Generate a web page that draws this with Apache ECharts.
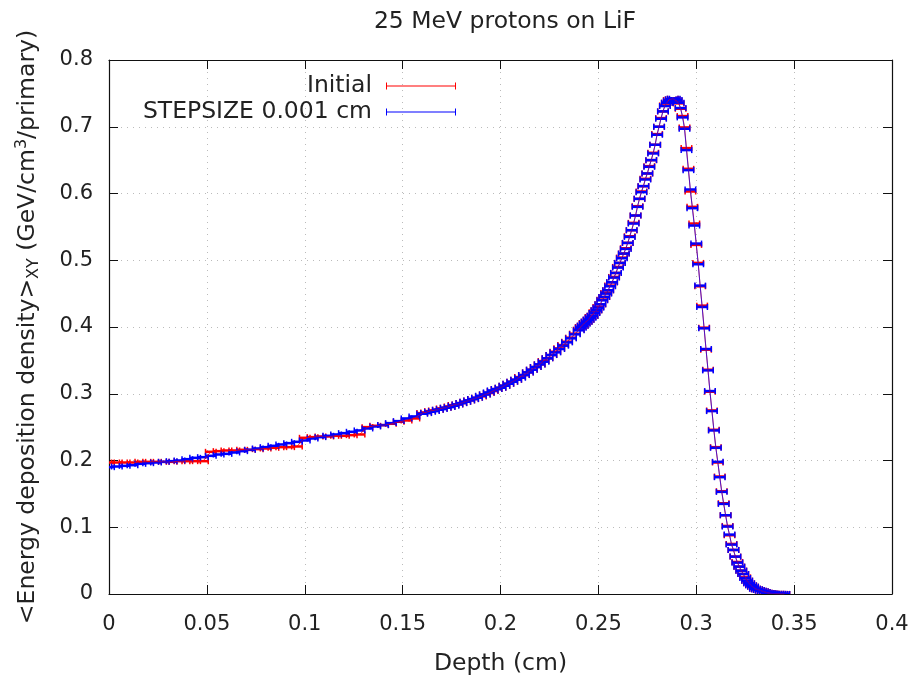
<!DOCTYPE html>
<html><head><meta charset="utf-8">
<script src="https://cdn.jsdelivr.net/npm/echarts@6/dist/echarts.min.js"></script>
<style>html,body{margin:0;padding:0;background:#fff}#c{width:912px;height:675px}</style>
</head><body><div id="c"></div>
<script>
// ---- data ----
const depthA = [0,0.004,0.008,0.012,0.016,0.02,0.024,0.028,0.032,0.036,0.04,0.044,0.048,0.052,0.056,0.06,0.064,0.068,0.072,0.076,0.08,0.084,0.088,0.092,0.096,0.1,0.104,0.108,0.112,0.116,0.12,0.124,0.128,0.132,0.136,0.14,0.144,0.148,0.152,0.156,0.16];
const depthM = [0.162,0.164,0.166,0.168,0.17,0.172,0.174,0.176,0.178,0.18,0.182,0.184,0.186,0.188,0.19,0.192,0.194,0.196,0.198,0.2,0.202,0.204,0.206,0.208,0.21,0.212,0.214,0.216,0.218,0.22,0.222,0.224,0.226,0.228,0.23,0.232,0.234,0.236,0.238,0.24];
const depthB = [0.241,0.242,0.243,0.244,0.245,0.246,0.247,0.248,0.249,0.25,0.251,0.252,0.253,0.254,0.255,0.256,0.257,0.258,0.259,0.26,0.261,0.262,0.263,0.264,0.265,0.266,0.267,0.268,0.269,0.27,0.271,0.272,0.273,0.274,0.275,0.276,0.277,0.278,0.279,0.28,0.281,0.282,0.283,0.284,0.285,0.286,0.287,0.288,0.289,0.29,0.291,0.292,0.293,0.294,0.295,0.296,0.297,0.298,0.299,0.3,0.301,0.302,0.303,0.304,0.305,0.306,0.307,0.308,0.309,0.31,0.311,0.312,0.313,0.314,0.315,0.316,0.317,0.318,0.319,0.32,0.321,0.322,0.323,0.324,0.325,0.326,0.327,0.328,0.329,0.33,0.331,0.332,0.333,0.334,0.335,0.336,0.337,0.338,0.339,0.34,0.341,0.342,0.343,0.344,0.345];

const initialA = [
0.197,0.197,0.197,0.197,0.198,0.198,0.198,0.198,0.198,0.199,
0.199,0.199,0.199,0.213,0.214,0.215,0.215,0.216,0.216,0.217,
0.218,0.219,0.220,0.220,0.221,0.234,0.235,0.236,0.236,0.237,
0.237,0.238,0.239,0.250,0.252,0.253,0.255,0.258,0.260,0.263,
0.271];
const initialM = [
0.272,0.274,0.275,0.276,0.278,0.279,0.281,0.283,0.284,0.286,
0.288,0.290,0.292,0.294,0.296,0.299,0.301,0.304,0.307,0.309,
0.312,0.315,0.318,0.321,0.325,0.328,0.332,0.336,0.340,0.344,
0.349,0.353,0.358,0.363,0.368,0.373,0.378,0.384,0.390,0.396];
const initialB = [
0.400,0.402,0.406,0.408,0.411,0.415,0.417,0.422,0.425,0.430,
0.434,0.441,0.445,0.451,0.455,0.462,0.467,0.475,0.481,0.490,
0.496,0.504,0.510,0.518,0.526,0.536,0.545,0.556,0.567,0.581,
0.592,0.603,0.611,0.622,0.630,0.641,0.650,0.661,0.673,0.689,
0.700,0.713,0.723,0.732,0.736,0.740,0.741,0.742,0.741,0.739,
0.735,0.727,0.716,0.699,0.668,0.637,0.603,0.580,0.555,0.523,
0.496,0.461,0.432,0.399,0.366,0.336,0.303,0.275,0.246,0.220,
0.197,0.176,0.154,0.136,0.118,0.102,0.088,0.075,0.066,0.056,
0.048,0.041,0.035,0.030,0.025,0.020,0.016,0.013,0.011,0.008,
0.007,0.006,0.005,0.004,0.003,0.002,0.0015,0.001,0.0008,0.0005,
0.0004,0.0003,0.0002,0.0001,0.0001];

const stepA = [
0.190,0.191,0.192,0.193,0.195,0.196,0.197,0.198,0.199,0.200,
0.202,0.204,0.205,0.207,0.209,0.210,0.212,0.214,0.216,0.218,
0.220,0.222,0.224,0.226,0.228,0.230,0.233,0.235,0.237,0.239,
0.241,0.243,0.245,0.248,0.251,0.253,0.256,0.259,0.263,0.266,
0.270];
const stepM = [
0.271,0.273,0.274,0.276,0.277,0.279,0.280,0.282,0.284,0.286,
0.288,0.290,0.292,0.294,0.297,0.299,0.302,0.305,0.307,0.309,
0.312,0.315,0.318,0.321,0.324,0.328,0.332,0.336,0.340,0.344,
0.348,0.353,0.358,0.362,0.367,0.372,0.377,0.383,0.389,0.395];
const stepB = [
0.399,0.402,0.405,0.408,0.411,0.414,0.417,0.421,0.425,0.429,
0.434,0.440,0.445,0.450,0.455,0.461,0.467,0.474,0.481,0.489,
0.496,0.503,0.510,0.517,0.526,0.535,0.545,0.555,0.567,0.580,
0.592,0.602,0.611,0.621,0.630,0.640,0.650,0.660,0.673,0.688,
0.700,0.712,0.723,0.731,0.736,0.739,0.741,0.742,0.742,0.740,
0.736,0.728,0.714,0.697,0.665,0.635,0.606,0.578,0.552,0.525,
0.494,0.462,0.430,0.398,0.367,0.335,0.304,0.274,0.245,0.219,
0.198,0.175,0.153,0.135,0.118,0.101,0.089,0.074,0.066,0.056,
0.047,0.041,0.035,0.030,0.024,0.020,0.016,0.013,0.011,0.008,
0.007,0.006,0.005,0.004,0.003,0.002,0.0015,0.001,0.0008,0.0005,
0.0004,0.0003,0.0002,0.0001,0.0001];

const xHalfWidth = 0.0027; // horizontal error bar half-width (cm)
const xTicks = { min: 0, max: 0.4, interval: 0.05 };
const yTicks = { min: 0, max: 0.8, interval: 0.1 };

const depth = depthA.concat(depthM, depthB);
const initialVals = initialA.concat(initialM, initialB);
const stepVals = stepA.concat(stepM, stepB);
const pairs = (xs, ys) => xs.map((x, i) => [x, ys[i]]);

const RED = '#ff0000', BLUE = '#0000ff';
const FONT = 'DejaVu Sans';
const FS = 23.5;      // title, legend, axis names
const FS_TICK = 21;   // tick labels

function barRenderer(color) {
  return function (params, api) {
    const x = api.value(0), y = api.value(1);
    const a = api.coord([x - xHalfWidth, y]);
    const b = api.coord([x + xHalfWidth, y]);
    const ch = 3;
    return {
      type: 'group',
      children: [
        { type: 'line', shape: { x1: a[0], y1: a[1], x2: b[0], y2: b[1] }, style: { stroke: color, lineWidth: 2.5 } },
        { type: 'line', shape: { x1: a[0], y1: a[1] - ch, x2: a[0], y2: a[1] + ch }, style: { stroke: color, lineWidth: 1.5 } },
        { type: 'line', shape: { x1: b[0], y1: b[1] - ch, x2: b[0], y2: b[1] + ch }, style: { stroke: color, lineWidth: 1.5 } }
      ]
    };
  };
}

const chart = echarts.init(document.getElementById('c'), null, { renderer: 'canvas' });
const iconPath = 'path://M0,0h1v3h68v-3h1v7h-1v-3h-68v3h-1z';
const axisCommon = {
  axisLine: { show: true, onZero: false, lineStyle: { color: '#111', width: 1.2 } },
  axisTick: { show: true, inside: true, length: 9, lineStyle: { color: '#111', width: 1 } }
};
const legendText = { fontFamily: FONT, fontSize: FS, color: '#222', lineHeight: 24, padding: [0, 9, 0, 0] };

chart.setOption({
  animation: false,
  backgroundColor: '#fff',
  textStyle: { fontFamily: FONT },
  title: {
    text: '25 MeV protons on LiF', left: 500, top: 5, textAlign: 'center',
    textStyle: { fontFamily: FONT, fontSize: FS, fontWeight: 'normal', color: '#222' }
  },
  legend: [
    { data: [{ name: 'Initial', icon: iconPath, itemStyle: { color: RED } }],
      orient: 'vertical', align: 'right', right: 456, top: 74, padding: 0,
      itemWidth: 70, itemHeight: 7, selectedMode: false, textStyle: legendText },
    { data: [{ name: 'STEPSIZE 0.001 cm', icon: iconPath, itemStyle: { color: BLUE } }],
      orient: 'vertical', align: 'right', right: 456, top: 100, padding: 0,
      itemWidth: 70, itemHeight: 7, selectedMode: false, textStyle: legendText }
  ],
  grid: { left: 109, right: 20, top: 60, bottom: 81, containLabel: false, outerBoundsMode: 'none' },
  xAxis: [
    Object.assign({
      type: 'value', position: 'bottom', min: xTicks.min, max: xTicks.max, interval: xTicks.interval,
      axisLabel: { fontFamily: FONT, fontSize: FS_TICK, color: '#222', margin: 20 },
      splitLine: { show: true, lineStyle: { color: '#bbb', type: [1, 5], width: 1 } },
      name: 'Depth (cm)', nameLocation: 'middle', nameGap: 58,
      nameTextStyle: { fontFamily: FONT, fontSize: FS, color: '#222' }
    }, axisCommon),
    Object.assign({
      type: 'value', position: 'top', min: xTicks.min, max: xTicks.max, interval: xTicks.interval,
      axisLabel: { show: false }, splitLine: { show: false }
    }, axisCommon)
  ],
  yAxis: [
    Object.assign({
      type: 'value', position: 'left', min: yTicks.min, max: yTicks.max, interval: yTicks.interval,
      axisLabel: { fontFamily: FONT, fontSize: FS_TICK, color: '#222', margin: 16 },
      splitLine: { show: true, lineStyle: { color: '#bbb', type: [1, 5], width: 1 } },
      name: '<Energy deposition density>{sub|XY} (GeV/cm{sup|3}/primary)',
      nameLocation: 'middle', nameGap: 67, nameRotate: 90,
      nameTextStyle: {
        fontFamily: FONT, fontSize: FS, color: '#222', lineHeight: 28,
        rich: {
          sub: { fontFamily: FONT, fontSize: 16, color: '#222', lineHeight: 16, verticalAlign: 'bottom' },
          sup: { fontFamily: FONT, fontSize: 16, color: '#222', lineHeight: 16, verticalAlign: 'top' }
        }
      }
    }, axisCommon),
    Object.assign({
      type: 'value', position: 'right', min: yTicks.min, max: yTicks.max, interval: yTicks.interval,
      axisLabel: { show: false }, splitLine: { show: false }
    }, axisCommon)
  ],
  series: [
    { name: 'Initial', type: 'custom', renderItem: barRenderer(RED), data: pairs(depth, initialVals),
      itemStyle: { color: RED }, clip: true, z: 2, encode: { x: 0, y: 1 } },
    { name: 'STEPSIZE 0.001 cm', type: 'custom', renderItem: barRenderer(BLUE), data: pairs(depth, stepVals),
      itemStyle: { color: BLUE }, clip: true, z: 3, encode: { x: 0, y: 1 } },
    { name: 'Initial', type: 'line', data: pairs(depth, initialVals), showSymbol: false, symbol: 'none',
      lineStyle: { color: RED, width: 1, opacity: 0.8 }, itemStyle: { color: RED }, z: 4, clip: true },
    { name: 'STEPSIZE 0.001 cm', type: 'line', data: pairs(depth, stepVals), showSymbol: false, symbol: 'none',
      lineStyle: { color: BLUE, width: 1, opacity: 0.7 }, itemStyle: { color: BLUE }, z: 5, clip: true }
  ]
});
</script></body></html>
